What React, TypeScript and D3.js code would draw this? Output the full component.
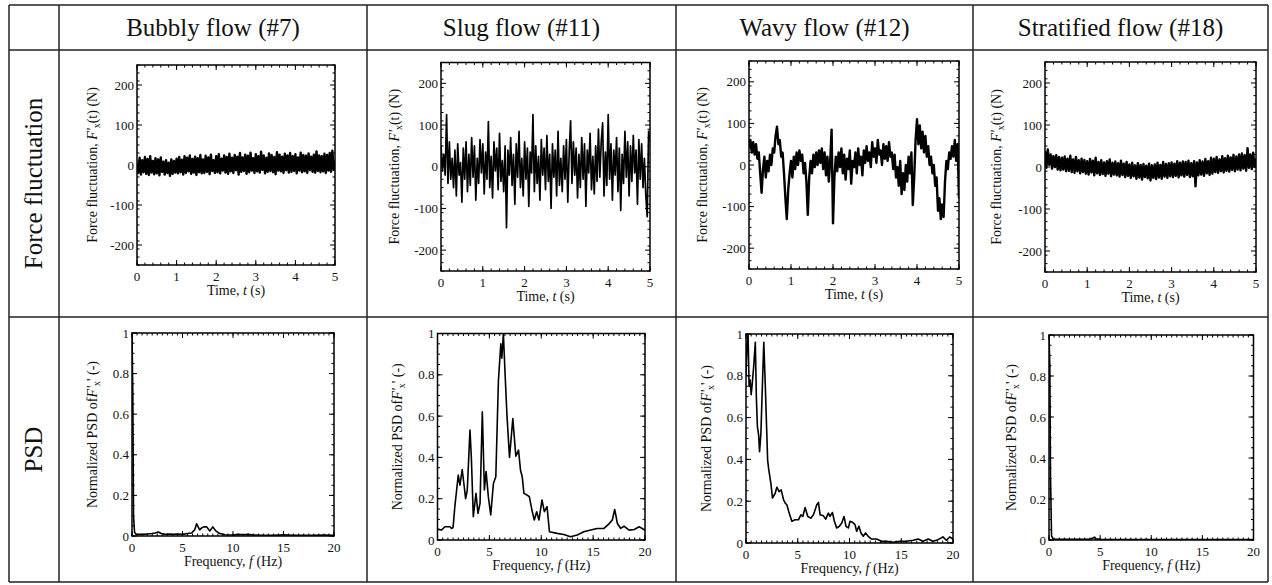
import React from 'react';
import * as d3 from 'd3';

// ---------------- data ----------------
const flowTitles = ['Bubbly flow (#7)', 'Slug flow (#11)', 'Wavy flow (#12)', 'Stratified flow (#18)'];
const rowTitles = ['Force fluctuation', 'PSD'];

// force fluctuation samples, one every timeStep seconds (0 .. 5 s)
const timeStep = 1 / 30;
const bubblyForce = [
  5, -20, 18, -24, 12, -18, 20, -22, 15, -25,
  22, -19, 10, -23, 17, -21, 14, -26, 19, -17,
  8, -24, 12, -20, 6, -27, 14, -22, 10, -19,
  16, -21, 20, -18, 13, -24, 22, -20, 18, -16,
  24, -22, 15, -19, 21, -25, 17, -18, 25, -21,
  14, -20, 23, -17, 19, -23, 26, -15, 12, -20,
  22, -18, 27, -21, 16, -14, 24, -19, 20, -22,
  28, -16, 18, -20, 25, -13, 21, -24, 30, -17,
  19, -15, 26, -22, 23, -18, 31, -14, 17, -20,
  27, -16, 22, -19, 33, -12, 24, -21, 18, -17,
  29, -15, 25, -18, 20, -23, 32, -14, 26, -16,
  21, -20, 28, -13, 24, -19, 30, -17, 22, -15,
  27, -21, 19, -14, 31, -18, 25, -16, 23, -20,
  29, -13, 21, -17, 26, -19, 34, -15, 24, -18,
  22, -16, 28, -20, 25, -14, 30, -17, 36, -12,
  8,
];
const slugForce = [
  50, -10, 30, -20, 125, -40, 60, -30, 20, -50,
  40, -70, 55, -20, 10, -85, 45, -30, 60, -60,
  30, -45, 70, -25, 50, -80, 20, -40, 65, -15,
  55, -65, 35, -30, 108, -50, 25, -75, 60, -10,
  45, -55, 80, -35, 15, -60, 50, -146, 40, -20,
  70, -45, 30, -90, 55, -25, 85, -50, 20, -70,
  60, -30, 45, -95, 35, -15, 125, -60, 50, -40,
  25, -80, 65, -20, 45, -55, 75, -35, 30, -100,
  55, -25, 40, -70, 85, -45, 20, -60, 50, -30,
  65, -85, 35, 110, -40, 60, -20, 45, -75, 30,
  -50, 70, -30, 55, -95, 40, -15, 80, -55, 25,
  -65, 50, -35, 90, -25, 60, 105, -70, 35, -45,
  125, -30, 55, -80, 40, -20, 70, -60, 45, -105,
  30, -40, 85, -25, 60, -70, 50, -35, 75, -15,
  40, -90, 65, -30, 55, -50, 20, -70, -120, 85,
  60,
];
const wavyForce = [
  40, 60, 30, 55, 25, 50, 15, 30, -20, -67,
  -10, 20, -30, 10, -15, 25, 0, 40, 30, 70,
  92, 50, 60, 20, 30, -20, -80, -130, -60, -20,
  10, -30, 20, -10, 30, 0, 35, 10, 25, -20,
  5, -40, -120, -30, 10, -20, 25, -5, 30, 0,
  35, 5, 40, -10, 30, -25, 20, -40, 10, 85,
  -140, -30, 20, -15, 30, -5, 40, -20, 25, -35,
  15, -10, 35, -45, 10, -5, 30, -20, 40, 0,
  20, -25, 35, 5, 45, 10, 30, -5, 55, 20,
  40, 5, 60, 25, 35, 0, 50, 15, 45, 10,
  55, 20, 30, -10, 25, -30, -5, -50, 10, -70,
  -20, -60, 0, -40, 20, -20, 30, -96, -30, 60,
  110, 50, 95, 40, 80, 30, 70, 20, 45, 0,
  20, -20, 0, -50, -30, -110, -80, -130, -95, -125,
  -40, 10, -10, 30, 15, 45, 20, 60, 10, 50,
  -80,
];
const stratifiedForce = [
  38, -2, 42, 5, 30, -4, 26, 0, 28, -6,
  24, -8, 22, -6, 25, -10, 20, -9, 27, -12,
  18, -14, 24, -10, 16, -15, 20, -12, 17, -16,
  14, -18, 19, -13, 15, -20, 22, -15, 12, -19,
  16, -17, 11, -21, 14, -16, 18, -22, 10, -18,
  13, -20, 9, -23, 15, -19, 8, -24, 12, -21,
  6, -26, 10, -22, 4, -28, 9, -25, 5, -30,
  7, -24, 3, -27, 8, -32, 4, -26, 6, -29,
  10, -25, 5, -28, 12, -23, 7, -26, 9, -22,
  11, -24, 8, -21, 14, -25, 10, -20, 13, -23,
  12, -19, 15, -24, 9, -22, 14, -46, 11, -20,
  16, -18, 13, -21, 19, -15, 14, -19, 22, -16,
  20, -12, 24, -14, 18, -10, 26, -13, 21, -9,
  27, -11, 23, -7, 29, -10, 25, -6, 30, -8,
  32, -4, 28, -9, 45, -2, 30, -5, 34, 0,
  20,
];

// normalized PSD (frequency in Hz, value)
const bubblyPsdFreq = [0, 0.08, 0.15, 0.25, 0.35, 0.5, 1.0, 1.5, 2.0, 2.3, 2.6, 2.9, 3.3, 3.7, 4.1, 4.5, 5.0, 5.5, 5.9, 6.2, 6.4, 6.7, 6.9, 7.1, 7.4, 7.7, 8.0, 8.3, 8.7, 9.2, 10, 10.5, 11, 11.5, 12, 13, 14, 15, 16, 17, 18, 19, 20];
const bubblyPsdValue = [1.0, 0.7, 0.1, 0.02, 0.01, 0.008, 0.008, 0.01, 0.012, 0.015, 0.02, 0.012, 0.008, 0.01, 0.008, 0.01, 0.008, 0.012, 0.015, 0.03, 0.06, 0.03, 0.04, 0.045, 0.045, 0.025, 0.045, 0.025, 0.012, 0.006, 0.005, 0.008, 0.006, 0.008, 0.005, 0.004, 0.003, 0.006, 0.004, 0.003, 0.004, 0.005, 0.004];

const slugPsdFreq = [0, 0.38, 0.71, 1.2, 1.35, 1.5, 1.67, 2.0, 2.16, 2.38, 2.58, 2.71, 2.87, 3.13, 3.26, 3.45, 3.71, 3.9, 4.1, 4.32, 4.52, 4.68, 4.9, 5.13, 5.39, 5.62, 5.87, 6.1, 6.2, 6.35, 6.5, 6.7, 6.94, 7.26, 7.55, 7.81, 8.0, 8.17, 8.33, 8.62, 8.85, 9.1, 9.33, 9.56, 9.78, 10.07, 10.3, 10.56, 10.79, 11.53, 12.17, 12.82, 13.47, 14.1, 14.76, 15.4, 16.05, 16.5, 16.85, 17.08, 17.34, 17.66, 17.98, 18.47, 18.96, 19.44, 20];
const slugPsdValue = [0.053, 0.048, 0.064, 0.064, 0.056, 0.06, 0.161, 0.314, 0.266, 0.341, 0.258, 0.2, 0.242, 0.532, 0.403, 0.113, 0.226, 0.129, 0.177, 0.621, 0.242, 0.332, 0.21, 0.121, 0.274, 0.306, 0.77, 0.95, 0.88, 1.0, 0.82, 0.6, 0.4, 0.588, 0.406, 0.435, 0.338, 0.306, 0.226, 0.218, 0.21, 0.145, 0.097, 0.137, 0.097, 0.194, 0.137, 0.161, 0.04, 0.032, 0.027, 0.016, 0.024, 0.04, 0.048, 0.056, 0.056, 0.077, 0.097, 0.148, 0.08, 0.056, 0.067, 0.048, 0.051, 0.064, 0.048];

const wavyPsdFreq = [0, 0.1, 0.2, 0.3, 0.4, 0.5, 0.6, 0.75, 0.9, 1.0, 1.1, 1.22, 1.31, 1.44, 1.6, 1.72, 1.86, 2.09, 2.18, 2.4, 2.56, 2.82, 2.98, 3.2, 3.4, 3.63, 3.79, 3.95, 4.17, 4.43, 4.75, 5.07, 5.3, 5.49, 5.71, 5.97, 6.26, 6.52, 6.84, 7.0, 7.16, 7.48, 7.7, 7.96, 8.12, 8.35, 8.54, 8.76, 9.02, 9.25, 9.47, 9.66, 9.89, 10.05, 10.3, 10.53, 10.69, 10.91, 11.11, 11.33, 11.55, 11.81, 12.13, 12.61, 13.1, 13.58, 14.2, 14.86, 15.5, 16.15, 16.63, 17.1, 17.6, 18.07, 18.55, 19.03, 19.36, 19.68, 20];
const wavyPsdValue = [0.8, 0.95, 1.0, 0.75, 0.78, 0.71, 0.76, 0.85, 0.96, 0.7, 0.557, 0.517, 0.437, 0.525, 0.78, 0.96, 0.76, 0.397, 0.358, 0.287, 0.215, 0.238, 0.267, 0.246, 0.254, 0.207, 0.191, 0.183, 0.143, 0.104, 0.111, 0.111, 0.135, 0.127, 0.17, 0.127, 0.119, 0.135, 0.183, 0.194, 0.135, 0.13, 0.114, 0.143, 0.127, 0.146, 0.104, 0.072, 0.08, 0.096, 0.127, 0.08, 0.072, 0.104, 0.099, 0.088, 0.056, 0.08, 0.048, 0.032, 0.048, 0.032, 0.019, 0.019, 0.008, 0.008, 0.003, 0.008, 0.008, 0.013, 0.019, 0.008, 0.019, 0.008, 0.016, 0.029, 0.013, 0.029, 0.019];

const stratifiedPsdFreq = [0, 0.08, 0.15, 0.25, 0.4, 1, 2, 3, 4, 4.3, 4.45, 4.6, 5, 7, 10, 13, 16, 20];
const stratifiedPsdValue = [1.0, 0.85, 0.3, 0.02, 0.005, 0.004, 0.003, 0.003, 0.004, 0.01, 0.014, 0.006, 0.003, 0.002, 0.002, 0.002, 0.002, 0.002];

// axes
const timeDomain = [0, 5];
const forceDomain = [-250, 250];
const freqDomain = [0, 20];
const psdDomain = [0, 1];
const timeTicks = [0, 1, 2, 3, 4, 5];
const forceTicks = [-200, -100, 0, 100, 200];
const freqTicks = [0, 5, 10, 15, 20];
const psdTicks = [0, 0.2, 0.4, 0.6, 0.8, 1];
const psdTickLabels = ['0', '0.2', '0.4', '0.6', '0.8', '1'];
const timeMinor = 0.2;
const forceMinor = 20;
const freqMinor = 0.5;
const psdMinor = 0.05;

// ---------------- layout ----------------
const W = 1272;
const H = 585;
const FONT = '"Liberation Serif", "Times New Roman", serif';
const colX = [9, 59, 367, 676, 973, 1268];
const rowY = [5, 50, 317, 582];

const topBoxes = [
  { x0: 137, x1: 335, y0: 65, y1: 265, tx: 97 },
  { x0: 441, x1: 650, y0: 62.5, y1: 271, tx: 399 },
  { x0: 749, x1: 959, y0: 61, y1: 269, tx: 707 },
  { x0: 1045, x1: 1256, y0: 62, y1: 272, tx: 1001 },
];
const psdBoxes = [
  { x0: 132, x1: 334, y0: 333, y1: 536, tx: 97 },
  { x0: 437.5, x1: 645, y0: 333.5, y1: 540, tx: 402 },
  { x0: 746, x1: 953, y0: 334, y1: 543, tx: 711 },
  { x0: 1049, x1: 1253.5, y0: 335, y1: 540, tx: 1016 },
];

type Box = { x0: number; x1: number; y0: number; y1: number; tx: number };

function Plot(props: {
  id: string; box: Box; xDomain: number[]; yDomain: number[];
  xTicks: number[]; yTicks: number[]; yTickLabels?: string[];
  xMinor: number; yMinor: number; xs: number[]; ys: number[];
  sw: number; xTitle: React.ReactNode; yTitle: React.ReactNode;
}) {
  const { id, box, xDomain, yDomain, xTicks, yTicks, yTickLabels, xMinor, yMinor, xs, ys, sw, xTitle, yTitle } = props;
  const x = d3.scaleLinear().domain(xDomain).range([box.x0, box.x1]);
  const y = d3.scaleLinear().domain(yDomain).range([box.y1, box.y0]);
  const line = d3.line<number>().x((_, i) => x(xs[i])).y((d) => y(d));
  const xMinorTicks = d3.range(xDomain[0], xDomain[1] + 1e-9, xMinor);
  const yMinorTicks = d3.range(yDomain[0], yDomain[1] + 1e-9, yMinor);
  const M = 5, m = 2.5;
  const cy = (box.y0 + box.y1) / 2;
  return (
    <g>
      <defs>
        <clipPath id={id}>
          <rect x={box.x0} y={box.y0} width={box.x1 - box.x0} height={box.y1 - box.y0} />
        </clipPath>
      </defs>
      <path d={line(ys) || ''} fill="none" stroke="#000" strokeWidth={sw} strokeLinejoin="round" clipPath={`url(#${id})`} />
      <g stroke="#000" strokeWidth={1}>
        {xMinorTicks.map((t, i) => (
          <g key={'xm' + i}>
            <line x1={x(t)} x2={x(t)} y1={box.y1} y2={box.y1 - m} />
            <line x1={x(t)} x2={x(t)} y1={box.y0} y2={box.y0 + m} />
          </g>
        ))}
        {yMinorTicks.map((t, i) => (
          <g key={'ym' + i}>
            <line x1={box.x0} x2={box.x0 + m} y1={y(t)} y2={y(t)} />
            <line x1={box.x1} x2={box.x1 - m} y1={y(t)} y2={y(t)} />
          </g>
        ))}
        {xTicks.map((t, i) => (
          <g key={'xM' + i}>
            <line x1={x(t)} x2={x(t)} y1={box.y1} y2={box.y1 - M} />
            <line x1={x(t)} x2={x(t)} y1={box.y0} y2={box.y0 + M} />
          </g>
        ))}
        {yTicks.map((t, i) => (
          <g key={'yM' + i}>
            <line x1={box.x0} x2={box.x0 + M} y1={y(t)} y2={y(t)} />
            <line x1={box.x1} x2={box.x1 - M} y1={y(t)} y2={y(t)} />
          </g>
        ))}
      </g>
      <rect x={box.x0} y={box.y0} width={box.x1 - box.x0} height={box.y1 - box.y0} fill="none" stroke="#000" strokeWidth={1.5} />
      <g fontFamily={FONT} fontSize={13} fill="#111">
        {xTicks.map((t, i) => (
          <text key={'xl' + i} x={x(t)} y={box.y1 + 16} textAnchor="middle">{String(t)}</text>
        ))}
        {yTicks.map((t, i) => (
          <text key={'yl' + i} x={box.x0 - 3} y={y(t)} dy="0.35em" textAnchor="end">
            {yTickLabels ? yTickLabels[i] : String(t)}
          </text>
        ))}
      </g>
      <text x={(box.x0 + box.x1) / 2} y={box.y1 + 30} textAnchor="middle" fontFamily={FONT} fontSize={14} fill="#111">{xTitle}</text>
      <text transform={`translate(${box.tx},${cy}) rotate(-90)`} textAnchor="middle" fontFamily={FONT} fontSize={14} fill="#111">{yTitle}</text>
    </g>
  );
}

const forceTitle = (
  <>
    Force fluctuation, <tspan fontStyle="italic">F'</tspan>
    <tspan fontSize={10} dy={3}>x</tspan>
    <tspan dy={-3}>(t) (N)</tspan>
  </>
);
const psdTitle = (
  <>
    Normalized PSD of<tspan fontStyle="italic">F'</tspan>
    <tspan fontSize={10} dy={3}>x</tspan>
    <tspan dy={-3}>' (-)</tspan>
  </>
);
const timeTitle = (<>Time, <tspan fontStyle="italic">t</tspan> (s)</>);
const freqTitle = (<>Frequency, <tspan fontStyle="italic">f</tspan> (Hz)</>);

export default function App() {
  const forces = [bubblyForce, slugForce, wavyForce, stratifiedForce];
  const psdF = [bubblyPsdFreq, slugPsdFreq, wavyPsdFreq, stratifiedPsdFreq];
  const psdV = [bubblyPsdValue, slugPsdValue, wavyPsdValue, stratifiedPsdValue];
  const forceWidths = [2.4, 1.7, 2.4, 2.4];
  return (
    <svg width={W} height={H} style={{ position: 'absolute', left: 0, top: 0, background: '#fff' }}>
      <rect x={0} y={0} width={W} height={H} fill="#fff" />
      {/* table grid */}
      <g stroke="#222" strokeWidth={1.5}>
        {colX.map((cx, i) => (
          <line key={'c' + i} x1={cx} x2={cx} y1={rowY[0]} y2={rowY[3]} />
        ))}
        {rowY.map((ry, i) => (
          <line key={'r' + i} x1={colX[0]} x2={colX[5]} y1={ry} y2={ry} />
        ))}
      </g>
      {flowTitles.map((t, i) => (
        <text key={'h' + i} x={(colX[i + 1] + colX[i + 2]) / 2} y={36} textAnchor="middle" fontFamily={FONT} fontSize={25} fill="#111">{t}</text>
      ))}
      {rowTitles.map((t, i) => (
        <text key={'rt' + i} transform={`translate(${(colX[0] + colX[1]) / 2 + 8},${(rowY[i + 1] + rowY[i + 2]) / 2}) rotate(-90)`} textAnchor="middle" fontFamily={FONT} fontSize={25} fill="#111">{t}</text>
      ))}
      {forces.map((vals, i) => (
        <Plot key={'f' + i} id={'clipf' + i} box={topBoxes[i]} xDomain={timeDomain} yDomain={forceDomain}
          xTicks={timeTicks} yTicks={forceTicks} xMinor={timeMinor} yMinor={forceMinor}
          xs={vals.map((_, k) => k * timeStep)} ys={vals} sw={forceWidths[i]}
          xTitle={timeTitle} yTitle={forceTitle} />
      ))}
      {psdV.map((vals, i) => (
        <Plot key={'p' + i} id={'clipp' + i} box={psdBoxes[i]} xDomain={freqDomain} yDomain={psdDomain}
          xTicks={freqTicks} yTicks={psdTicks} yTickLabels={psdTickLabels} xMinor={freqMinor} yMinor={psdMinor}
          xs={psdF[i]} ys={vals} sw={1.6}
          xTitle={freqTitle} yTitle={psdTitle} />
      ))}
    </svg>
  );
}
